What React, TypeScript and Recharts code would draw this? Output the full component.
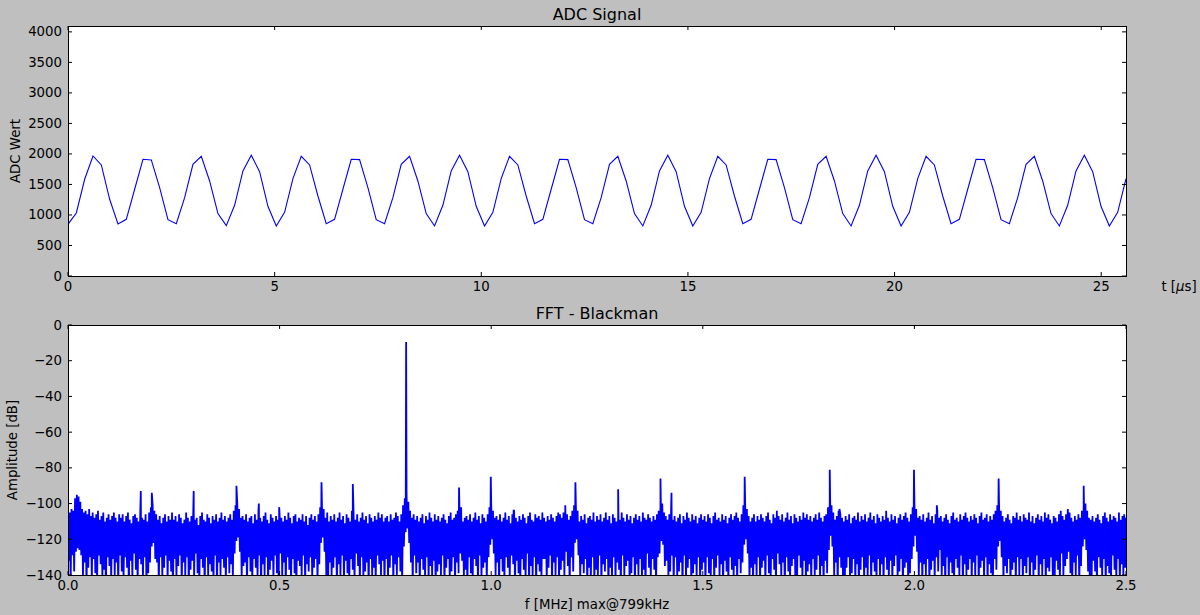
import { LineChart, Line, XAxis, YAxis } from "recharts";

// ADC samples (128)
const adcValues = [
  847, 1033, 1585, 1967, 1820, 1257, 852, 929, 1421, 1913, 1902, 1448, 923, 858, 1284, 1831, 1962, 1557, 1022, 825, 1159, 1721, 1978, 1710, 1142,
  820, 1044, 1595, 1962, 1820, 1311, 858, 929, 1421, 1913, 1907, 1448, 923, 858, 1284, 1831, 1962, 1557, 1022, 820, 1159, 1721, 1978, 1710, 1142,
  820, 1044, 1595, 1962, 1820, 1311, 858, 929, 1421, 1913, 1907, 1448, 923, 858, 1284, 1831, 1962, 1557, 1022, 820, 1159, 1721, 1978, 1710, 1142,
  820, 1044, 1595, 1962, 1820, 1311, 858, 929, 1421, 1913, 1907, 1448, 923, 858, 1284, 1831, 1962, 1557, 1022, 820, 1159, 1721, 1978, 1710, 1142,
  820, 1044, 1595, 1962, 1820, 1311, 858, 929, 1421, 1913, 1907, 1448, 923, 858, 1284, 1831, 1962, 1557, 1022, 820, 1159, 1721, 1978, 1710, 1142,
  820, 1044, 1595,
];
const T_END = 25.6;

// FFT noise floor, upper envelope per column (dB), 30 columns per row
const fftTops = [
  -104, -105, -103, -104, -97, -95, -96, -99, -103, -105, -104, -106, -103, -107, -105, -108, -106, -104, -109, -107, -105, -110, -108, -106, -109, -107, -105, -108, -110, -106,
  -108, -106, -110, -107, -105, -109, -111, -107, -106, -108, -110, -104, -108, -109, -106, -110, -105, -102, -101, -104, -106, -109, -107, -111, -108, -106, -110, -107, -109, -105,
  -109, -107, -110, -106, -108, -111, -109, -105, -108, -110, -107, -106, -109, -108, -112, -107, -105, -109, -110, -106, -108, -111, -107, -109, -106, -110, -108, -105, -109, -107,
  -110, -108, -106, -109, -104, -101, -100, -103, -108, -107, -109, -106, -110, -108, -107, -111, -106, -109, -104, -108, -110, -107, -105, -109, -111, -106, -108, -110, -107, -109,
  -106, -108, -110, -107, -109, -105, -108, -111, -107, -106, -110, -108, -109, -106, -110, -107, -112, -108, -106, -109, -107, -110, -106, -102, -100, -103, -108, -105, -110, -107,
  -109, -106, -110, -108, -105, -109, -107, -111, -106, -108, -110, -104, -107, -109, -106, -110, -108, -105, -109, -107, -111, -106, -108, -110, -107, -109, -105, -108, -106, -110,
  -108, -107, -110, -106, -109, -108, -105, -107, -110, -106, -101, -97, -95, -99, -104, -108, -106, -109, -107, -110, -108, -106, -111, -107, -109, -105, -108, -110, -106, -109,
  -107, -110, -108, -106, -109, -111, -107, -105, -109, -108, -106, -104, -103, -106, -110, -108, -107, -109, -106, -110, -108, -105, -109, -107, -111, -106, -108, -110, -106, -102,
  -100, -104, -108, -107, -109, -106, -110, -108, -105, -109, -107, -111, -106, -104, -108, -110, -107, -109, -106, -108, -111, -107, -105, -109, -110, -106, -108, -107, -109, -105,
  -108, -110, -107, -109, -106, -108, -110, -107, -105, -106, -108, -105, -103, -106, -109, -107, -104, -101, -100, -104, -110, -107, -109, -106, -111, -108, -107, -109, -105, -110,
  -107, -109, -106, -110, -108, -105, -109, -107, -111, -106, -108, -110, -107, -109, -105, -108, -110, -106, -109, -107, -111, -108, -106, -109, -107, -110, -105, -108, -109, -106,
  -108, -110, -107, -109, -106, -104, -101, -100, -105, -107, -109, -106, -104, -109, -107, -110, -108, -106, -111, -107, -109, -105, -108, -110, -106, -109, -107, -111, -108, -106,
  -109, -107, -110, -106, -108, -111, -107, -105, -109, -108, -110, -106, -109, -107, -111, -108, -106, -109, -107, -105, -108, -110, -106, -101, -99, -103, -107, -110, -108, -106,
  -110, -107, -109, -106, -108, -110, -107, -105, -109, -111, -106, -108, -104, -107, -109, -106, -110, -108, -105, -109, -107, -111, -106, -108, -110, -107, -109, -105, -108, -106,
  -109, -107, -110, -108, -106, -109, -105, -108, -110, -107, -106, -102, -99, -101, -105, -109, -107, -104, -106, -108, -110, -107, -109, -106, -111, -108, -107, -109, -105, -110,
  -107, -109, -106, -110, -108, -105, -109, -107, -111, -106, -108, -110, -107, -109, -104, -108, -110, -106, -109, -107, -111, -108, -106, -109, -107, -105, -108, -110, -106, -102,
  -99, -103, -108, -107, -109, -106, -110, -108, -105, -109, -107, -111, -106, -104, -108, -107, -110, -108, -106, -109, -111, -107, -105, -109, -108, -110, -106, -109, -107, -105,
  -108, -110, -107, -109, -106, -108, -111, -107, -105, -109, -108, -106, -110, -107, -109, -106, -104, -101, -100, -104, -107, -110, -108, -106, -109, -111, -107, -108, -105, -109,
  -107, -110, -106, -108, -109, -105, -110, -107, -111, -108, -106, -109, -107, -110, -105, -108, -106, -109, -111, -107, -108, -110, -106, -104, -107, -109, -106, -103, -105, -108,
  -110, -107, -109, -106, -108, -104, -101, -100, -104, -108, -109, -107, -110, -108, -106, -109, -111, -107, -105, -108, -110, -106, -109, -107, -108, -110, -105, -109, -107, -106,
  -108,
];
// FFT noise floor, lower envelope per column (dB)
const fftBottoms = [
  -132, -145, -129, -138, -127, -125, -126, -129, -141, -133, -148, -136, -130, -143, -131, -139, -146, -129, -134, -142, -137, -150, -130, -135, -144, -131, -140, -133, -147, -129,
  -138, -143, -130, -136, -149, -132, -141, -128, -137, -145, -131, -134, -142, -130, -146, -139, -133, -124, -122, -131, -133, -147, -130, -141, -136, -129, -144, -132, -138, -150,
  -131, -142, -135, -129, -146, -133, -140, -130, -148, -137, -132, -143, -128, -139, -145, -131, -136, -149, -130, -141, -134, -138, -144, -129, -147, -133, -140, -131, -136, -145,
  -130, -139, -134, -141, -128, -121, -119, -127, -141, -135, -133, -147, -130, -138, -144, -131, -136, -142, -129, -149, -134, -140, -130, -145, -137, -132, -143, -129, -139, -146,
  -128, -141, -133, -147, -130, -137, -144, -131, -139, -150, -132, -135, -142, -129, -146, -134, -138, -130, -143, -136, -131, -145, -134, -122, -119, -127, -141, -145, -133, -140,
  -136, -130, -148, -134, -141, -129, -144, -132, -139, -147, -131, -137, -143, -128, -135, -146, -130, -142, -138, -133, -149, -131, -140, -136, -145, -129, -134, -141, -132, -147,
  -131, -143, -136, -129, -146, -134, -140, -130, -138, -145, -124, -116, -114, -122, -133, -145, -129, -139, -133, -148, -131, -137, -142, -130, -144, -135, -141, -132, -149, -138,
  -134, -140, -129, -147, -136, -131, -143, -138, -130, -145, -133, -139, -128, -132, -141, -137, -148, -130, -139, -144, -131, -135, -146, -129, -142, -136, -133, -144, -130, -123,
  -120, -128, -140, -133, -149, -131, -138, -144, -130, -136, -142, -129, -134, -147, -132, -139, -145, -131, -137, -143, -128, -146, -135, -141, -130, -148, -134, -138, -142, -131,
  -131, -144, -136, -129, -147, -133, -140, -130, -145, -137, -132, -141, -127, -135, -148, -130, -138, -122, -120, -129, -142, -134, -139, -131, -148, -136, -143, -130, -145, -137,
  -140, -129, -146, -134, -138, -131, -149, -136, -142, -130, -144, -133, -137, -147, -129, -141, -135, -132, -145, -139, -130, -148, -134, -140, -131, -143, -137, -150, -128, -136,
  -142, -131, -137, -146, -130, -128, -121, -123, -135, -132, -141, -138, -129, -146, -130, -141, -138, -133, -149, -129, -144, -136, -131, -147, -139, -134, -142, -130, -145, -137,
  -133, -148, -130, -139, -143, -131, -146, -136, -129, -141, -134, -150, -132, -138, -145, -130, -137, -142, -135, -147, -131, -139, -133, -123, -120, -128, -144, -136, -147, -134,
  -141, -130, -145, -136, -132, -148, -129, -139, -143, -131, -137, -146, -128, -134, -142, -133, -149, -130, -138, -144, -135, -131, -147, -140, -129, -136, -143, -132, -145, -138,
  -134, -146, -131, -140, -137, -129, -143, -135, -148, -132, -139, -126, -118, -124, -141, -133, -147, -130, -136, -143, -148, -136, -130, -142, -139, -131, -145, -134, -149, -137,
  -130, -144, -136, -141, -129, -147, -133, -138, -145, -131, -140, -134, -148, -130, -137, -143, -132, -146, -135, -129, -142, -138, -131, -149, -136, -133, -146, -139, -131, -124,
  -118, -127, -141, -133, -145, -134, -140, -131, -147, -137, -132, -143, -130, -138, -126, -141, -135, -149, -130, -144, -133, -139, -146, -131, -136, -142, -129, -148, -134, -140,
  -137, -131, -145, -133, -141, -129, -147, -136, -132, -143, -130, -146, -134, -139, -148, -131, -137, -124, -121, -130, -144, -135, -139, -131, -148, -137, -133, -146, -130, -140,
  -131, -146, -135, -139, -130, -148, -133, -142, -137, -129, -145, -134, -140, -131, -147, -136, -138, -130, -143, -149, -132, -137, -144, -128, -141, -135, -131, -127, -139, -146,
  -133, -140, -129, -146, -135, -124, -120, -126, -138, -147, -144, -132, -138, -147, -130, -136, -142, -131, -148, -135, -139, -145, -129, -137, -143, -131, -146, -134, -140, -136,
];
// narrow spectral lines: [MHz, dB]
const fftSpikes: [number, number][] = [
  [0.172, -93], [0.198, -94], [0.297, -93], [0.398, -90], [0.451, -100], [0.499, -102],
  [0.599, -88], [0.673, -89], [0.799, -9.5], [0.924, -91], [0.929, -102], [0.999, -85],
  [1.053, -104], [1.175, -101], [1.199, -88], [1.3, -92], [1.4, -86], [1.426, -94],
  [1.599, -85], [1.675, -105], [1.8, -81], [1.823, -103], [1.999, -81], [2.053, -101],
  [2.199, -86], [2.4, -90],
];
const F_END = 2.5;

const adcTicksX = [0, 5, 10, 15, 20, 25];
const adcTicksY = [0, 500, 1000, 1500, 2000, 2500, 3000, 3500, 4000];
const fftTicksX = [0, 0.5, 1, 1.5, 2, 2.5];
const fftTicksY = [0, -20, -40, -60, -80, -100, -120, -140];

const adcData = adcValues.map((v, i) => ({ x: (i * T_END) / (adcValues.length - 1), v }));

const colW = F_END / fftBottoms.length;
const fftData: { x: number; v: number }[] = [];
fftTops.forEach((v, k) => fftData.push({ x: k * colW, v }));
fftBottoms.forEach((v, k) => fftData.push({ x: (k + 0.5) * colW, v }));
fftSpikes.forEach(([x, v]) => fftData.push({ x, v }));
fftData.sort((a, b) => a.x - b.x);

// plot box inside each chart (chart-local px)
const PL = 68;
const PR = 1126;
const PT = 26;
const PB = 276;
const TICK = 4;
const FONT = "DejaVu Sans";
const BLUE = "#0000ff";

const minus = (s: string) => s.replace("-", "\u2212");

const YTick = (props: any, fmt: (v: number) => string) => {
  const { y, payload } = props;
  return (
    <g>
      <line x1={PL} x2={PL + TICK} y1={y} y2={y} stroke="#000" />
      <line x1={PR} x2={PR - TICK} y1={y} y2={y} stroke="#000" />
      <text x={PL - 6} y={y} textAnchor="end" dominantBaseline="central" fontSize={13.3} fontFamily={FONT} fill="#000">
        {fmt(payload.value)}
      </text>
    </g>
  );
};

const XTick = (props: any, fmt: (v: number) => string) => {
  const { x, payload } = props;
  return (
    <g>
      <line x1={x} x2={x} y1={PB} y2={PB - TICK} stroke="#000" />
      <line x1={x} x2={x} y1={PT} y2={PT + TICK} stroke="#000" />
      <text x={x} y={PB + 15} textAnchor="middle" fontSize={13.3} fontFamily={FONT} fill="#000">
        {fmt(payload.value)}
      </text>
    </g>
  );
};

const abs = (left: number, top: number): React.CSSProperties => ({ position: "absolute", left, top });

const Label = ({ x, y, size = 13.3, rotate = false, children }: any) => (
  <div
    style={{
      ...abs(x, y),
      fontSize: size,
      lineHeight: 1,
      whiteSpace: "nowrap",
      transform: `translate(-50%, -50%)${rotate ? " rotate(-90deg)" : ""}`,
    }}
  >
    {children}
  </div>
);

const Panel = ({ top, children }: any) => (
  <>
    <div style={{ ...abs(PL, top + PT), width: PR - PL, height: PB - PT, background: "#fff" }} />
    <div style={abs(0, top)}>{children}</div>
    <div
      style={{
        ...abs(PL, top + PT),
        width: PR - PL + 1,
        height: PB - PT + 1,
        border: "1px solid #000",
        boxSizing: "border-box",
        pointerEvents: "none",
      }}
    />
  </>
);

export default function App() {
  return (
    <div style={{ ...abs(0, 0), width: 1200, height: 615, background: "#bfbfbf", fontFamily: FONT, color: "#000", overflow: "hidden" }}>
      <Panel top={0}>
        <LineChart width={1200} height={306} data={adcData} margin={{ top: PT, right: 1200 - PR, bottom: 0, left: 0 }}>
          <XAxis
            dataKey="x"
            type="number"
            domain={[0, T_END]}
            allowDataOverflow
            ticks={adcTicksX}
            interval={0}
            height={306 - PB}
            tickSize={0}
            tickLine={false}
            axisLine={false}
            tick={(p: any) => XTick(p, (v) => String(v))}
          />
          <YAxis
            type="number"
            domain={[0, 4096]}
            allowDataOverflow
            ticks={adcTicksY}
            interval={0}
            width={PL}
            tickSize={0}
            tickLine={false}
            axisLine={false}
            tick={(p: any) => YTick(p, (v) => String(v))}
          />
          <Line dataKey="v" stroke={BLUE} strokeWidth={1.1} dot={false} isAnimationActive={false} />
        </LineChart>
      </Panel>

      <Panel top={299}>
        <LineChart width={1200} height={316} data={fftData} margin={{ top: PT, right: 1200 - PR, bottom: 0, left: 0 }}>
          <XAxis
            dataKey="x"
            type="number"
            domain={[0, F_END]}
            allowDataOverflow
            ticks={fftTicksX}
            interval={0}
            height={316 - PB}
            tickSize={0}
            tickLine={false}
            axisLine={false}
            tick={(p: any) => XTick(p, (v) => v.toFixed(1))}
          />
          <YAxis
            type="number"
            domain={[-140, 0]}
            allowDataOverflow
            ticks={fftTicksY}
            interval={0}
            width={PL}
            tickSize={0}
            tickLine={false}
            axisLine={false}
            tick={(p: any) => YTick(p, (v) => minus(String(v)))}
          />
          <Line dataKey="v" stroke={BLUE} strokeWidth={1.8} dot={false} isAnimationActive={false} />
        </LineChart>
      </Panel>

      <Label x={597} y={15} size={16}>ADC Signal</Label>
      <Label x={597} y={314} size={16}>FFT - Blackman</Label>
      <Label x={16} y={151} rotate>ADC Wert</Label>
      <Label x={13} y={450} rotate>Amplitude [dB]</Label>
      <Label x={597} y={605}>f [MHz] max@799kHz</Label>
      <Label x={1179} y={287}>
        t [<span style={{ fontStyle: "italic" }}>μ</span>s]
      </Label>
    </div>
  );
}
